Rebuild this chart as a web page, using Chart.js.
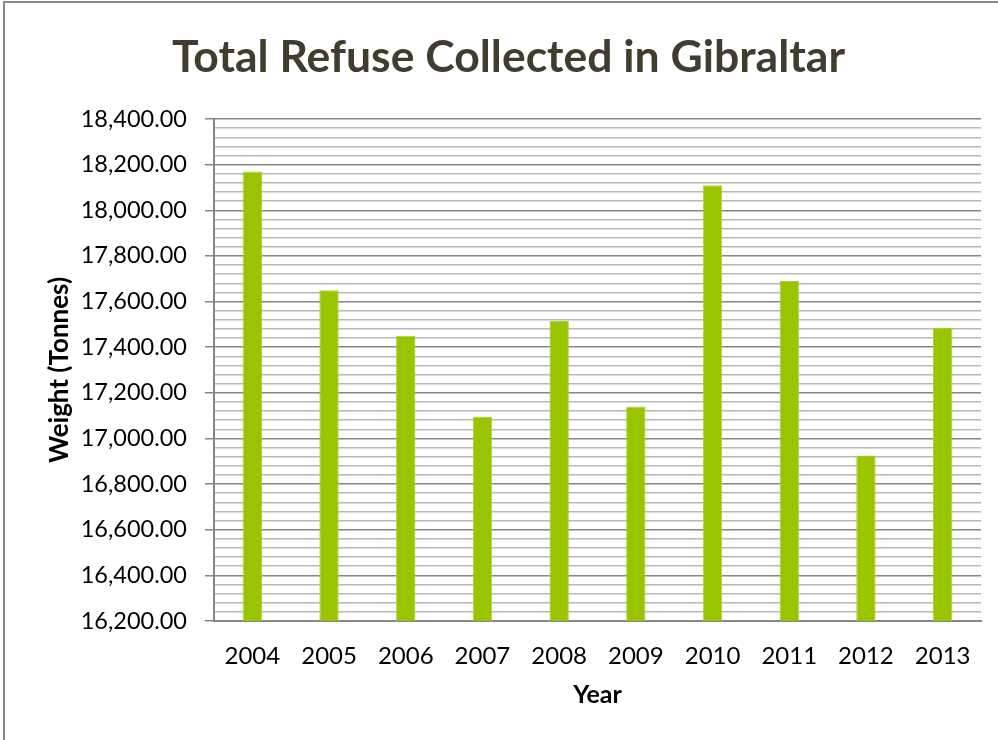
<!DOCTYPE html>
<html>
<head>
<meta charset="utf-8">
<title>Total Refuse Collected in Gibraltar</title>
<script src="https://cdn.jsdelivr.net/npm/chart.js@4/dist/chart.umd.min.js"></script>
<style>
  html, body { margin: 0; padding: 0; background: #fff; overflow: hidden; }
  #wrap { position: relative; width: 998px; height: 740px; }
  #frame {
    position: absolute; left: 3px; top: 1px; width: 1200px; height: 1000px;
    border: 2px solid #8a8a8a; box-sizing: border-box; pointer-events: none;
  }
</style>
</head>
<body>
<div id="wrap">
  <canvas id="refuseChart" width="998" height="740"></canvas>
  <div id="frame"></div>
</div>
<script>
// yearly totals, tonnes
const years  = ['2004', '2005', '2006', '2007', '2008', '2009', '2010', '2011', '2012', '2013'];
const tonnes = [18170, 17650, 17450, 17095, 17515, 17140, 18110, 17690, 16925, 17485];

// value axis range and grid spacing
const yMin = 16200;
const yMax = 18400;
const majorStep = 200;
const minorStep = 40;

const FONT = 'Lato';
const axisGrey = '#868686';

function isMajor(v) {
  return Math.round(v - yMin) % majorStep === 0;
}

function fmt(v) {
  return v.toLocaleString('en-US', { minimumFractionDigits: 2, maximumFractionDigits: 2 });
}

function draw() {
  const ctx = document.getElementById('refuseChart');
  new Chart(ctx, {
    type: 'bar',
    data: {
      labels: years,
      datasets: [{
        label: 'Weight (Tonnes)',
        data: tonnes,
        backgroundColor: '#99c400',
        borderColor: '#acd334',
        borderWidth: 1,
        barPercentage: 0.253,
        categoryPercentage: 1
      }]
    },
    options: {
      responsive: false,
      animation: false,
      // left padding pushes the centred title a little to the right
      layout: { padding: { left: 36, right: 17, top: 0, bottom: 0 } },
      plugins: {
        legend: { display: false },
        tooltip: { enabled: false },
        title: {
          display: true,
          text: 'Total Refuse Collected in Gibraltar',
          color: '#403d2e',
          font: { family: FONT, size: 44.5, weight: 'bold' },
          padding: { top: 31, bottom: 34.6 }
        }
      },
      scales: {
        x: {
          afterFit: function (s) { s.height = 740 - 621; },
          grid: { display: false, drawTicks: false },
          border: { display: true, color: axisGrey, width: 2 },
          ticks: { padding: 21, color: '#000', font: { family: FONT, size: 24 } },
          title: {
            display: true,
            text: 'Year',
            color: '#000',
            font: { family: FONT, size: 25, weight: 'bold' },
            padding: { top: 0, bottom: 30 }
          }
        },
        y: {
          min: yMin,
          max: yMax,
          afterFit: function (s) { s.width = 214 - 36; },
          ticks: {
            stepSize: minorStep,
            autoSkip: false,
            padding: 18,
            color: '#000',
            font: { family: FONT, size: 23.5 },
            callback: function (v) { return isMajor(v) ? fmt(v) : ''; }
          },
          grid: {
            color: function (c) { return isMajor(c.tick.value) ? axisGrey : '#b8b8b8'; },
            lineWidth: 1.5,
            tickLength: 9,
            tickColor: function (c) { return isMajor(c.tick.value) ? axisGrey : 'rgba(0,0,0,0)'; }
          },
          border: { color: axisGrey, width: 2 },
          title: {
            display: true,
            text: 'Weight (Tonnes)',
            color: '#000',
            font: { family: FONT, size: 26, weight: 'bold' },
            padding: { top: 8, bottom: 0 }
          }
        }
      }
    }
  });
}

Promise.all([
  document.fonts.load('bold 45px ' + FONT),
  document.fonts.load('24px ' + FONT)
]).then(draw, draw);
</script>
</body>
</html>
